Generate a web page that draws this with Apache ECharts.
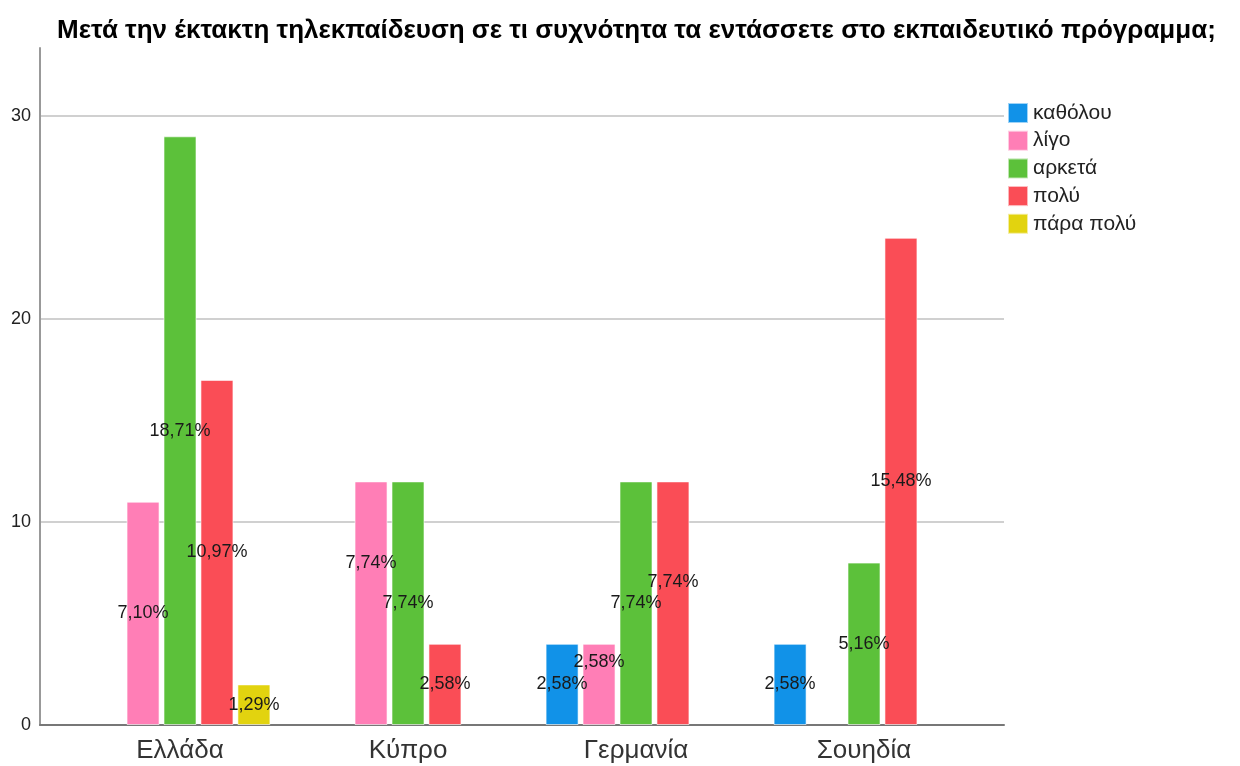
<!DOCTYPE html>
<html>
<head>
<meta charset="utf-8">
<script src="https://cdn.jsdelivr.net/npm/echarts@6/dist/echarts.min.js"></script>
<style>
  html, body { margin: 0; padding: 0; background: #fff; }
  #chart { width: 1240px; height: 766px; }
</style>
</head>
<body>
<div id="chart"></div>
<script>
const countries = ['Ελλάδα', 'Κύπρο', 'Γερμανία', 'Σουηδία'];
const levels = ['καθόλου', 'λίγο', 'αρκετά', 'πολύ', 'πάρα πολύ'];

// counts per level (one entry per country), null = no bar
const katholou = [null, null, 4, 4];
const ligo = [11, 12, 4, null];
const arketa = [29, 12, 12, 8];
const poly = [17, 4, 12, 24];
const paraPoly = [2, null, null, null];

const total = 155;
const yTicks = [0, 10, 20, 30];

const colors = ['#1192e8', '#ff7eb6', '#5cc13a', '#fa4d56', '#e2d30f'];
const seriesValues = [katholou, ligo, arketa, poly, paraPoly];

// labels that were pushed up to avoid overlapping (series index -> country index -> px)
const labelShift = { 1: { 1: -40, 2: -22 }, 3: { 2: -21 } };

const font = '"Liberation Sans", Arial, sans-serif';
const yMax = 33.35;

const chart = echarts.init(document.getElementById('chart'));

const series = seriesValues.map((vals, si) => ({
    name: levels[si],
    type: 'bar',
    xAxisIndex: 1,
    yAxisIndex: 1,
    barWidth: 33,
    barGap: '12%',
    itemStyle: { color: colors[si], borderColor: 'rgba(255,255,255,0.6)', borderWidth: 1 },
    label: {
        show: true,
        position: 'inside',
        color: '#1a1a1a',
        fontFamily: font,
        fontSize: 18,
        formatter: p => (p.value / total * 100).toFixed(2).replace('.', ',') + '%'
    },
    labelLayout: p => {
        const shift = labelShift[si] && labelShift[si][p.dataIndex];
        return { hideOverlap: false, dy: shift || 0 };
    },
    data: vals.map(v => (v === null ? '-' : v))
}));

const option = {
    animation: false,
    title: {
        text: 'Μετά την έκτακτη τηλεκπαίδευση σε τι συχνότητα τα εντάσσετε στο εκπαιδευτικό πρόγραμμα;',
        left: 52,
        top: 13,
        textStyle: { fontFamily: font, fontWeight: 'bold', fontSize: 26, color: '#000' }
    },
    legend: {
        orient: 'vertical',
        left: 1002,
        top: 97,
        itemWidth: 20,
        itemHeight: 20,
        itemGap: 5.7,
        icon: 'rect',
        textStyle: { fontFamily: font, fontSize: 21, lineHeight: 20, color: '#222' },
        data: levels
    },
    grid: [
        { left: 40, right: 236, top: 48, bottom: 41 },
        { left: 66, right: 262, top: 48, bottom: 41 }
    ],
    xAxis: [
        {
            gridIndex: 0,
            type: 'value',
            min: 0,
            max: 1,
            axisLine: { show: true, lineStyle: { color: '#777', width: 2 } },
            axisTick: { show: false },
            axisLabel: { show: false },
            splitLine: { show: false }
        },
        {
            gridIndex: 1,
            type: 'category',
            data: countries,
            axisLine: { show: false },
            axisTick: { show: false },
            axisLabel: { fontFamily: font, fontSize: 26, color: '#333', margin: 13 }
        }
    ],
    yAxis: [
        {
            gridIndex: 0,
            type: 'value',
            min: 0,
            max: yMax,
            interval: 10,
            axisLine: { show: true, lineStyle: { color: '#999', width: 2 } },
            axisTick: { show: false },
            axisLabel: {
                fontFamily: font,
                fontSize: 18,
                color: '#222',
                margin: 9,
                formatter: v => (yTicks.includes(v) ? String(v) : '')
            },
            splitLine: { show: true, showMaxLine: false, lineStyle: { color: '#d0d0d0', width: 2 } }
        },
        {
            gridIndex: 1,
            type: 'value',
            min: 0,
            max: yMax,
            show: false,
            splitLine: { show: false }
        }
    ],
    series: series
};

option && chart.setOption(option);
</script>
</body>
</html>
